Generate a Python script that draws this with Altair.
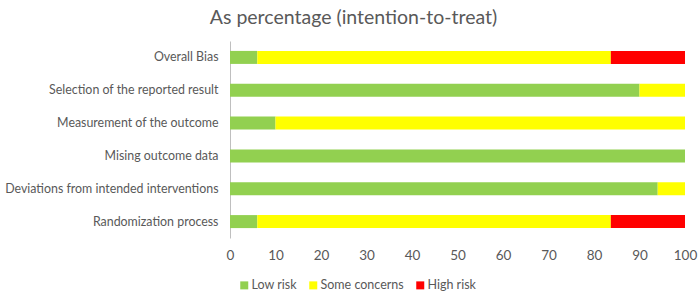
import altair as alt
import pandas as pd

domains = [
    "Overall Bias",
    "Selection of the reported result",
    "Measurement of the outcome",
    "Mising outcome data",
    "Deviations from intended interventions",
    "Randomization process",
]
low_risk = [6.0, 90.0, 10.0, 100.0, 94.0, 6.0]
some_concerns = [77.7, 10.0, 90.0, 0.0, 6.0, 77.7]
high_risk = [16.3, 0.0, 0.0, 0.0, 0.0, 16.3]

levels = ["Low risk", "Some concerns", "High risk"]
colors = ["#92D050", "#FFFF00", "#FF0000"]

rows = []
for i, d in enumerate(domains):
    for k, (lvl, vals) in enumerate(zip(levels, [low_risk, some_concerns, high_risk])):
        rows.append({"domain": d, "level": lvl, "order": k, "pct": vals[i]})
df = pd.DataFrame(rows)

FONT = "Lato"
GRAY = "#595959"

chart = (
    alt.Chart(df)
    .mark_bar(size=13)
    .encode(
        x=alt.X(
            "pct:Q",
            stack="zero",
            scale=alt.Scale(domain=[0, 100], nice=False),
            axis=alt.Axis(
                title=None,
                values=list(range(0, 101, 10)),
                grid=False,
                domain=False,
                ticks=False,
                labelFlush=False,
                labelOverlap=False,
                labelPadding=10,
                labelFontSize=13.5,
                labelColor=GRAY,
                labelFont=FONT,
            ),
        ),
        y=alt.Y(
            "domain:N",
            sort=domains,
            axis=alt.Axis(
                title=None,
                ticks=False,
                domainColor="#BFBFBF",
                labelPadding=12,
                labelFontSize=12.4,
                labelColor=GRAY,
                labelFont=FONT,
                labelLimit=300,
            ),
        ),
        color=alt.Color(
            "level:N",
            sort=levels,
            scale=alt.Scale(domain=levels, range=colors),
            legend=alt.Legend(
                title=None,
                orient="none",
                direction="horizontal",
                legendX=8,
                legendY=238,
                symbolType="square",
                symbolSize=64,
                symbolStrokeWidth=0,
                labelFontSize=12.5,
                labelOffset=1,
                labelColor=GRAY,
                labelFont=FONT,
                columnPadding=10,
                symbolOffset=0,
            ),
        ),
        order=alt.Order("order:Q"),
    )
    .properties(
        width=455,
        height=197,
        padding={"left": 230, "top": 41, "right": 15, "bottom": 58},
        autosize=alt.AutoSizeParams(type="none"),
        title=alt.TitleParams(
            "As percentage (intention-to-treat)",
            anchor="middle",
            dx=-104,
            offset=13,
            fontSize=19.5,
            font=FONT,
            fontWeight="normal",
            color=GRAY,
        ),
    )
    .configure_view(stroke=None)
    .configure_scale(bandPaddingInner=0.6)
)

chart.save("out.html", embed_options={"renderer": "svg", "actions": False})
